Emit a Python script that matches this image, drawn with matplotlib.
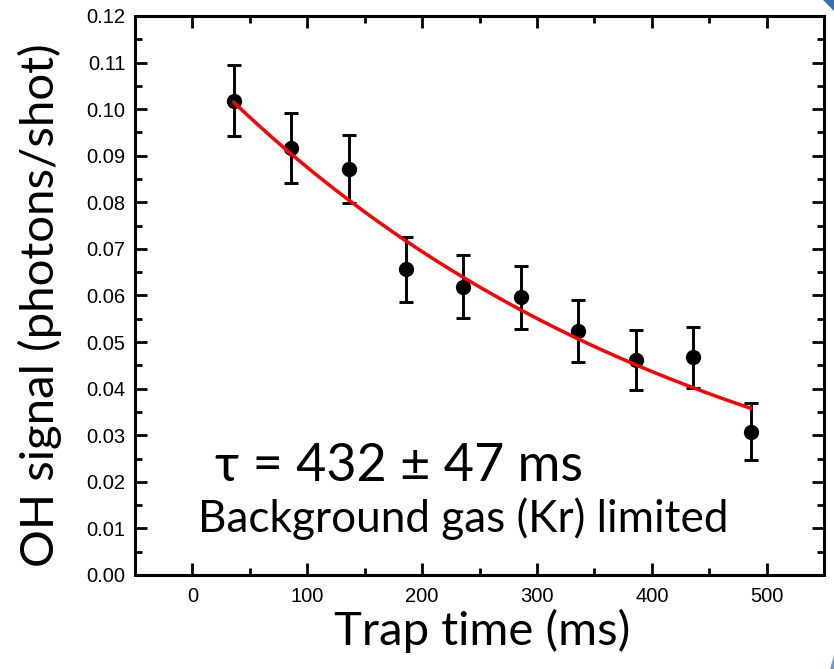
import numpy as np
import matplotlib
matplotlib.use('Agg')
import matplotlib.pyplot as plt
from matplotlib.ticker import MultipleLocator, FormatStrFormatter
from matplotlib.patches import Polygon

# trap lifetime measurement
trap_time = [36, 86, 136, 186, 236, 286, 336, 386, 436, 486]
oh_signal = [0.1018, 0.0916, 0.0871, 0.0656, 0.0619, 0.0596, 0.0524, 0.0462, 0.0467, 0.0308]
oh_error = [0.0076, 0.0075, 0.0073, 0.0069, 0.0068, 0.0068, 0.0067, 0.0065, 0.0066, 0.0062]

# exponential fit parameters
fit_amp = 0.1103
fit_tau = 432
fit_tau_err = 47

label_font = ['Lato', 'DejaVu Sans']
tick_font = 'Liberation Sans'

W, H = 834, 669
fig = plt.figure(figsize=(W / 100, H / 100), dpi=100)
ax = fig.add_axes([135 / W, 1 - 575 / H, 689 / W, 559 / H])

t_fit = np.linspace(trap_time[0], trap_time[-1], 200)
ax.plot(t_fit, fit_amp * np.exp(-t_fit / fit_tau), color='#ff0000', lw=2.5, zorder=3)
ax.errorbar(trap_time, oh_signal, yerr=oh_error, fmt='o', color='black', ms=10,
            elinewidth=2.1, capsize=4.8, capthick=2.1, zorder=2)

ax.set_xlim(-50, 550)
ax.set_ylim(0, 0.12)
ax.xaxis.set_major_locator(MultipleLocator(100))
ax.xaxis.set_minor_locator(MultipleLocator(50))
ax.yaxis.set_major_locator(MultipleLocator(0.01))
ax.yaxis.set_minor_locator(MultipleLocator(0.005))
ax.yaxis.set_major_formatter(FormatStrFormatter('%.2f'))

ax.tick_params(which='both', direction='in', top=True, right=True, width=2.0, color='black')
ax.tick_params(which='major', length=8.5)
ax.tick_params(which='minor', length=5)
ax.tick_params(axis='x', which='major', pad=9, labelsize=14.5)
ax.tick_params(axis='y', which='major', pad=7, labelsize=14.5)
for lab in ax.get_xticklabels() + ax.get_yticklabels():
    lab.set_fontfamily(tick_font)
for sp in ax.spines.values():
    sp.set_linewidth(2.2)

fig.text(482 / W, 1 - 645 / H, 'Trap time (ms)', ha='center', va='baseline',
         fontsize=34, family=label_font)
fig.text(40 / W, 1 - 305 / H, 'OH signal (photons/shot)', ha='center', va='center',
         rotation=90, fontsize=34, family=label_font)

# fit result, positioned in pixels
ax.text(215, H - 481, f'τ = {fit_tau} ± {fit_tau_err} ms', transform=None, fontsize=37.5,
        family=label_font, va='baseline')
ax.text(198, H - 532, 'Background gas (Kr) limited', transform=None, fontsize=31.8,
        family=label_font, va='baseline')

# small blue slide corners
fig.patches.append(Polygon([[823, H], [834, H], [834, H - 11]], closed=True,
                           transform=None, facecolor='#3a6fb7', edgecolor='none'))
fig.patches.append(Polygon([[834, 0], [830, 0], [834, 14]], closed=True,
                           transform=None, facecolor='#3a6fb7', edgecolor='none', alpha=0.7))

fig.savefig('out.png', dpi=100)
